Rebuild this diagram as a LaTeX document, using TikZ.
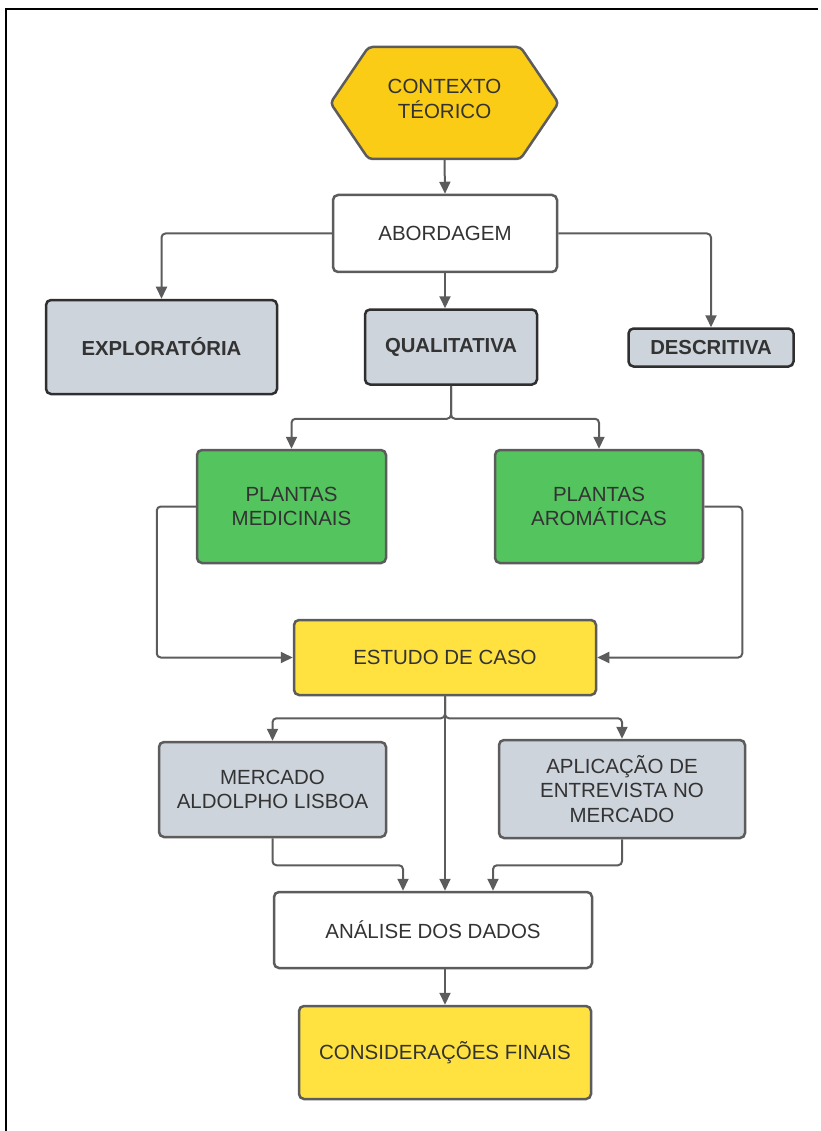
\documentclass[tikz,border=0pt]{standalone}
\usepackage{fontspec}
\setmainfont{Liberation Sans}
\usetikzlibrary{arrows.meta}

% Colours of the flowchart
\definecolor{hexyellow}{HTML}{FACC15}
\definecolor{boxyellow}{HTML}{FFE23F}
\definecolor{boxgreen}{HTML}{54C45E}
\definecolor{boxgray}{HTML}{CED4DC}
\definecolor{edgegray}{HTML}{5C5C5C}
\definecolor{edgedark}{HTML}{2F2F2F}
\definecolor{textgray}{HTML}{333333}

\tikzset{
  box/.style={draw=edgegray, line width=2.5pt, rounded corners=5pt, align=center,
    text=textgray, inner sep=0pt, font=\fontsize{20.5}{24.5}\selectfont},
  whitebox/.style={box, fill=white},
  graybox/.style={box, fill=boxgray},
  typebox/.style={box, fill=boxgray, draw=edgedark,
    font=\fontsize{20.3}{24}\selectfont\bfseries},
  greenbox/.style={box, fill=boxgreen},
  yellowbox/.style={box, fill=boxyellow},
  flow/.style={draw=edgegray, line width=2pt, rounded corners=4pt,
    -{Triangle[length=12pt,width=11pt]}},
}

\begin{document}
\begin{tikzpicture}[x=1pt, y=-1pt]

    % Fix the page size (y grows downwards)
    \useasboundingbox (0,0) rectangle (820,1131);

    % Frame round the figure (left and top sides only)
    \draw[line width=2pt] (5.5,1131) -- (5.5,9) -- (818,9);

    % Define the hexagon of the theoretical context
    \def\cut{38}
    \coordinate (H1) at (330.5,103);
    \coordinate (H2) at (330.5+\cut,47);
    \coordinate (H3) at (558.5-\cut,47);
    \coordinate (H4) at (558.5,103);
    \coordinate (H5) at (558.5-\cut,159);
    \coordinate (H6) at (330.5+\cut,159);

    % Draw the hexagon
    \filldraw[fill=hexyellow, draw=edgegray, line width=2.5pt, rounded corners=4pt]
      (H1) -- (H2) -- (H3) -- (H4) -- (H5) -- (H6) -- cycle;
    \node[minimum width=228pt, minimum height=112pt, inner sep=0pt] (ctx) at (444.5,103) {};
    \node[text=textgray, align=center, font=\fontsize{20.5}{24.5}\selectfont] (ctxlabel)
      at (444.5,99) {CONTEXTO\\TÉORICO};

    % Approach and its three types
    \node[whitebox, minimum width=224pt, minimum height=77pt] (abord) at (445,233.5) {ABORDAGEM};
    \node[typebox, minimum width=231pt, minimum height=94pt] (explo) at (161.5,347) {EXPLORATÓRIA};
    \node[typebox, minimum width=172pt, minimum height=75pt] (quali) at (451,347) {QUALITATIVA};
    \node[typebox, minimum width=165pt, minimum height=38pt] (descr) at (711,347.5) {DESCRITIVA};

    % The two groups of plants
    \node[greenbox, minimum width=189pt, minimum height=113pt] (med) at (291.5,506.5) {PLANTAS\\MEDICINAIS};
    \node[greenbox, minimum width=208pt, minimum height=113pt] (aro) at (599,506.5) {PLANTAS\\AROMÁTICAS};

    % Case study
    \node[yellowbox, minimum width=302pt, minimum height=75pt] (estudo) at (445,657.5) {ESTUDO DE CASO};

    % Market and interviews
    \node[graybox, minimum width=227pt, minimum height=95pt] (merc) at (272.5,789.5) {MERCADO\\ALDOLPHO LISBOA};
    \node[graybox, minimum width=246pt, minimum height=98pt] (apl) at (622,789) {APLICAÇÃO DE\\ENTREVISTA NO\\MERCADO};

    % Analysis and conclusion
    \node[whitebox, minimum width=318pt, minimum height=76pt] (analise) at (433,930) {ANÁLISE DOS DADOS};
    \node[yellowbox, minimum width=292pt, minimum height=93pt] (consid) at (445,1052.5) {CONSIDERAÇÕES FINAIS};

    % Connectors
    \draw[flow] (ctx.south) -- (abord.north);
    \draw[flow] (abord.west) -| (explo.north);
    \draw[flow] (abord.east) -| (descr.north);
    \draw[flow] (abord.south) -- (abord.south |- quali.north);

    \draw[flow] (quali.south) -- ++(0,33) -| (med.north);
    \draw[flow] (quali.south) -- ++(0,33) -| (aro.north);

    \draw[flow] (med.west) -- ++(-39,0) |- (estudo.west);
    \draw[flow] (aro.east) -- ++(38,0) |- (estudo.east);

    \draw[flow] (estudo.south) -- ++(0,22) -| (merc.north);
    \draw[flow] (estudo.south) -- ++(0,22) -| (apl.north);
    \draw[flow] (estudo.south) -- (estudo.south |- analise.north);

    \draw[flow] (merc.south) -- ++(0,27) -| ([xshift=-30pt]analise.north);
    \draw[flow] (apl.south) -- ++(0,26) -| ([xshift=60pt]analise.north);

    \draw[flow] (analise.south -| consid.north) -- (consid.north);

\end{tikzpicture}
\end{document}
